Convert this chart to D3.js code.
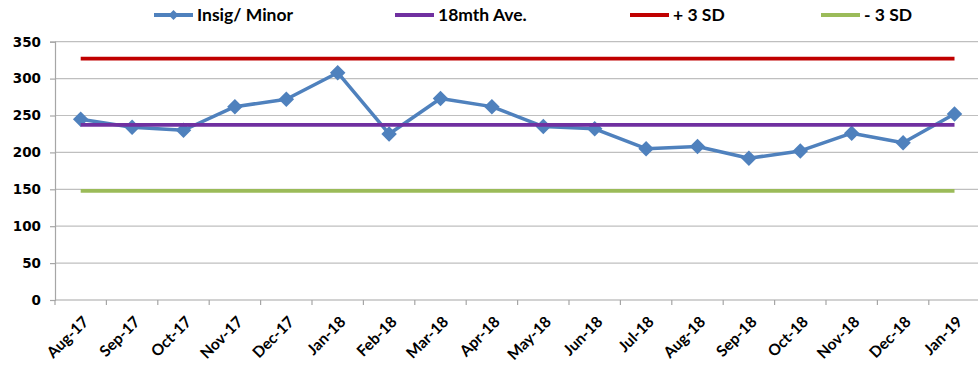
<!DOCTYPE html>
<html>
<head>
<meta charset="utf-8">
<script src="https://cdn.jsdelivr.net/npm/d3@7"></script>
<style>
  html, body { margin: 0; padding: 0; background: #fff; }
  svg { display: block; }
</style>
</head>
<body>
<svg id="chart" width="978" height="367"></svg>
<script>
// Monthly incident counts (Insignificant / Minor) with control limits
const months = ["Aug-17","Sep-17","Oct-17","Nov-17","Dec-17","Jan-18","Feb-18","Mar-18","Apr-18",
                "May-18","Jun-18","Jul-18","Aug-18","Sep-18","Oct-18","Nov-18","Dec-18","Jan-19"];
const insigMinor = [245, 234, 230, 262, 272, 308, 225, 273, 262, 235, 232, 205, 208, 192, 202, 226, 213, 252];
const average18 = 237.4;
const plus3SD = 327;
const minus3SD = 148;
const yTicks = [0, 50, 100, 150, 200, 250, 300, 350];

const seriesNames = ["Insig/ Minor", "18mth Ave.", "+ 3 SD", "- 3 SD"];
const seriesColors = ["#4f81bd", "#7030a0", "#c00000", "#9bbb59"];

const svg = d3.select("#chart");
const plotLeft = 55, plotBottom = 300, plotTop = 41.7, step = 51.4;

const x = d3.scaleBand().domain(months).range([plotLeft, plotLeft + step * months.length]).padding(0);
const y = d3.scaleLinear().domain([0, 350]).range([plotBottom, plotTop]);
const cx = m => x(m) + x.bandwidth() / 2;

// horizontal gridlines
svg.append("g")
  .selectAll("line")
  .data(yTicks.filter(t => t > 0))
  .join("line")
  .attr("x1", plotLeft).attr("x2", 978)
  .attr("y1", d => y(d)).attr("y2", d => y(d))
  .attr("stroke", "#bfbfbf").attr("stroke-width", 1.2);

// y axis
const yAxis = svg.append("g")
  .attr("transform", `translate(${plotLeft},0)`)
  .call(d3.axisLeft(y).tickValues(yTicks).tickSize(5).tickPadding(9));
yAxis.select(".domain").attr("stroke", "#a6a6a6").attr("stroke-width", 1.2);
yAxis.selectAll(".tick line").attr("stroke", "#a6a6a6").attr("stroke-width", 1.2);
yAxis.selectAll(".tick text")
  .attr("font-family", "'DejaVu Sans', sans-serif")
  .attr("font-weight", "bold")
  .attr("font-size", 13.5)
  .attr("fill", "#000");

// x axis: baseline, tick marks at category boundaries, rotated labels
const xAxis = svg.append("g");
xAxis.append("line")
  .attr("x1", plotLeft).attr("x2", 978)
  .attr("y1", plotBottom).attr("y2", plotBottom)
  .attr("stroke", "#a6a6a6").attr("stroke-width", 1.2);
xAxis.selectAll("line.tk")
  .data(months)
  .join("line").attr("class", "tk")
  .attr("x1", d => x(d)).attr("x2", d => x(d))
  .attr("y1", plotBottom).attr("y2", plotBottom + 5)
  .attr("stroke", "#a6a6a6").attr("stroke-width", 1.2);
xAxis.selectAll("text")
  .data(months)
  .join("text")
  .attr("transform", d => `translate(${cx(d) + 5},319) rotate(-45)`)
  .attr("text-anchor", "end")
  .attr("dy", "0.35em")
  .attr("font-family", "Lato, sans-serif")
  .attr("font-weight", "bold")
  .attr("font-size", 15.5)
  .attr("fill", "#000")
  .text(d => d);

// main series line
const line = d3.line().x((d, i) => cx(months[i])).y(d => y(d));
svg.append("path")
  .datum(insigMinor)
  .attr("d", line)
  .attr("fill", "none")
  .attr("stroke", seriesColors[0])
  .attr("stroke-width", 3.5)
  .attr("stroke-linejoin", "round");

// diamond markers
const diamond = d3.symbol().type(d3.symbolSquare).size(120);
svg.append("g")
  .selectAll("path")
  .data(insigMinor)
  .join("path")
  .attr("transform", (d, i) => `translate(${cx(months[i])},${y(d)}) rotate(45)`)
  .attr("d", diamond)
  .attr("fill", seriesColors[0]);

// average and control limit lines
const refLines = [average18, plus3SD, minus3SD];
refLines.forEach((v, k) => {
  svg.append("path")
    .datum(months.map(() => v))
    .attr("d", line)
    .attr("fill", "none")
    .attr("stroke", seriesColors[k + 1])
    .attr("stroke-width", 3.8);
});

// legend
const legendX = [154, 395, 630, 821];
const legend = svg.append("g");
seriesNames.forEach((name, k) => {
  const g = legend.append("g").attr("transform", `translate(${legendX[k]},15)`);
  g.append("line")
    .attr("x1", 0).attr("x2", 39)
    .attr("stroke", seriesColors[k]).attr("stroke-width", 4);
  if (k === 0) {
    g.append("path")
      .attr("transform", "translate(19.5,0) rotate(45)")
      .attr("d", d3.symbol().type(d3.symbolSquare).size(50))
      .attr("fill", seriesColors[0]);
  }
  g.append("text")
    .attr("x", 43).attr("y", 6)
    .attr("font-family", "Lato, sans-serif")
    .attr("font-weight", "bold")
    .attr("font-size", 17.5)
    .attr("fill", "#000")
    .text(name);
});
</script>
</body>
</html>
